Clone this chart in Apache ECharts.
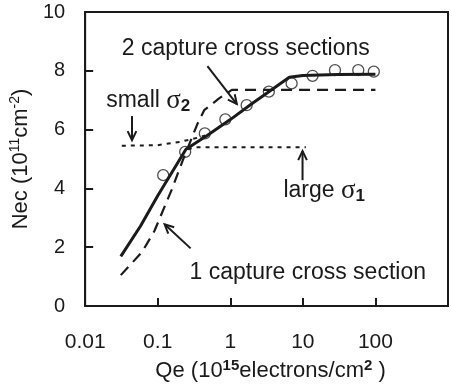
<!DOCTYPE html>
<html><head><meta charset="utf-8">
<script src="https://cdn.jsdelivr.net/npm/echarts@6/dist/echarts.min.js"></script>
<style>html,body{margin:0;padding:0;background:#fff}#c{width:451px;height:387px}</style>
</head><body><div id="c"></div>
<script>
// ---- data ----
const xTickValues = [0.01, 0.1, 1, 10, 100];
const yTickValues = [0, 2, 4, 6, 8, 10];

const measuredQe  = [0.119, 0.239, 0.446, 0.855, 1.68, 3.4, 7.0, 13.6, 27.7, 58, 95];
const measuredNec = [4.45, 5.24, 5.87, 6.35, 6.83, 7.29, 7.57, 7.83, 8.02, 8.02, 7.97];

const twoSigmaQe  = [0.031, 0.058, 0.1, 0.245, 0.48, 1, 2, 3.4, 6.5, 10, 30, 100];
const twoSigmaNec = [1.69, 2.72, 3.75, 5.33, 5.8, 6.34, 6.89, 7.29, 7.78, 7.84, 7.87, 7.88];

const oneSigmaQe  = [0.031, 0.061, 0.09, 0.155, 0.222, 0.355, 0.437, 0.7, 1.05, 100];
const oneSigmaNec = [1.05, 1.84, 2.55, 3.94, 4.96, 6.21, 6.66, 7.06, 7.35, 7.35];

const smallSigma2Qe  = [0.032, 0.1, 0.2, 0.35, 0.45];
const smallSigma2Nec = [5.45, 5.47, 5.58, 5.72, 5.8];

const largeSigma1Qe  = [0.26, 0.33, 11];
const largeSigma1Nec = [5.33, 5.4, 5.4];

// annotations: text and arrows, anchored in data coordinates
const annoTexts = [
  {text: '{n|2 capture cross sections}', at: [0.032, 8.77]},
  {text: '{n|small }{g|σ}{sub|2}', at: [0.0195, 6.97]},
  {text: '{n|large }{g|σ}{sub|1}', at: [5.4, 3.91]},
  {text: '{n|1 capture cross section}', at: [0.274, 1.15]}
];
const annoArrows = [
  {from: [0.484, 8.16], to: [1.23, 6.87]},
  {from: [0.0442, 6.46], to: [0.0442, 5.64]},
  {from: [9.9, 4.28], to: [9.9, 5.27]},
  {from: [0.284, 1.96], to: [0.1245, 2.78]}
];

function zip(a, b) { return a.map((v, i) => [v, b[i]]); }

const FONT = "'Liberation Sans', Arial, sans-serif";
const INK = '#1a1a1a';

const chart = echarts.init(document.getElementById('c'), null, {renderer: 'canvas'});
chart.setOption({
  animation: false,
  backgroundColor: '#fff',
  grid: {left: 85, top: 12, right: -4, bottom: 81, show: true, borderColor: INK, borderWidth: 2},
  xAxis: {
    type: 'log', min: 0.01, max: 1000, logBase: 10,
    nameLocation: 'middle', nameGap: 50,
    name: '{n|Qe (10}{sup|15}{n|electrons/cm}{sup|2}{n| )}',
    nameTextStyle: {
      padding: [0, 0, 0, 8],
      rich: {
        n: {fontFamily: FONT, fontSize: 22, color: INK, lineHeight: 26},
        sup: {fontFamily: FONT, fontSize: 15, fontWeight: 'bold', color: INK, verticalAlign: 'top', lineHeight: 14}
      }
    },
    axisLine: {show: true, lineStyle: {color: INK, width: 2}},
    axisTick: {show: true, inside: true, length: 8, lineStyle: {color: INK, width: 2}},
    axisLabel: {
      fontFamily: FONT, fontSize: 21, color: INK, margin: 26,
      formatter: function (v) {
        const i = xTickValues.findIndex(t => Math.abs(Math.log10(t) - Math.log10(v)) < 1e-6);
        return i >= 0 ? String(xTickValues[i]) : '';
      }
    },
    splitLine: {show: false}
  },
  yAxis: {
    type: 'value', min: yTickValues[0], max: yTickValues[yTickValues.length - 1], interval: 2,
    nameLocation: 'middle', nameGap: 48,
    name: '{n|Nec (10}{sup|11}{n|cm}{sup|-2}{n|)}',
    nameTextStyle: {
      rich: {
        n: {fontFamily: FONT, fontSize: 22, color: INK, lineHeight: 26},
        sup: {fontFamily: FONT, fontSize: 14, color: INK, verticalAlign: 'top', lineHeight: 14}
      }
    },
    axisLine: {show: true, lineStyle: {color: INK, width: 2}},
    axisTick: {show: true, inside: true, length: 8, lineStyle: {color: INK, width: 2}},
    axisLabel: {fontFamily: FONT, fontSize: 20, color: INK, margin: 20},
    splitLine: {show: false}
  },
  series: [
    {type: 'line', data: zip(smallSigma2Qe, smallSigma2Nec), showSymbol: false,
     lineStyle: {color: INK, width: 2, type: [4, 5]}, z: 1},
    {type: 'line', data: zip(largeSigma1Qe, largeSigma1Nec), showSymbol: false,
     lineStyle: {color: INK, width: 2, type: [4, 5]}, z: 1},
    {type: 'line', data: zip(oneSigmaQe, oneSigmaNec), showSymbol: false,
     lineStyle: {color: INK, width: 2.2, type: [11, 7]}, z: 2},
    {type: 'line', data: zip(twoSigmaQe, twoSigmaNec), showSymbol: false,
     lineStyle: {color: INK, width: 3}, z: 3},
    {type: 'scatter', data: zip(measuredQe, measuredNec), symbol: 'circle', symbolSize: 11,
     itemStyle: {color: 'rgba(0,0,0,0)', borderColor: '#222', borderWidth: 1.3}, z: 4}
  ]
});

// annotations drawn after axes are set, converted through the chart's scales
const px = p => chart.convertToPixel({gridIndex: 0}, p);
const graphics = [];
const annoRich = {
  n: {fontFamily: FONT, fontSize: 23, fill: INK},
  g: {fontFamily: "'Liberation Serif', 'Times New Roman', serif", fontSize: 27, fill: INK},
  sub: {fontFamily: FONT, fontSize: 17, fontWeight: 'bold', fill: INK, verticalAlign: 'bottom', padding: [6, 0, 0, 0]}
};
annoTexts.forEach(a => {
  const p = px(a.at);
  graphics.push({type: 'text', x: p[0], y: p[1], z: 10,
    style: {text: a.text, rich: annoRich, verticalAlign: 'middle', align: 'left', fill: INK}});
});
annoArrows.forEach(a => {
  const f = px(a.from), t = px(a.to);
  const ang = Math.atan2(t[1] - f[1], t[0] - f[0]);
  const L = 10, spread = 0.45;
  const h1 = [t[0] - L * Math.cos(ang - spread), t[1] - L * Math.sin(ang - spread)];
  const h2 = [t[0] - L * Math.cos(ang + spread), t[1] - L * Math.sin(ang + spread)];
  graphics.push({type: 'line', z: 10, shape: {x1: f[0], y1: f[1], x2: t[0], y2: t[1]},
    style: {stroke: INK, lineWidth: 2}});
  graphics.push({type: 'polyline', z: 10, shape: {points: [h1, t, h2]},
    style: {stroke: INK, lineWidth: 2, fill: null}});
});
chart.setOption({graphic: graphics});
</script>
</body></html>
